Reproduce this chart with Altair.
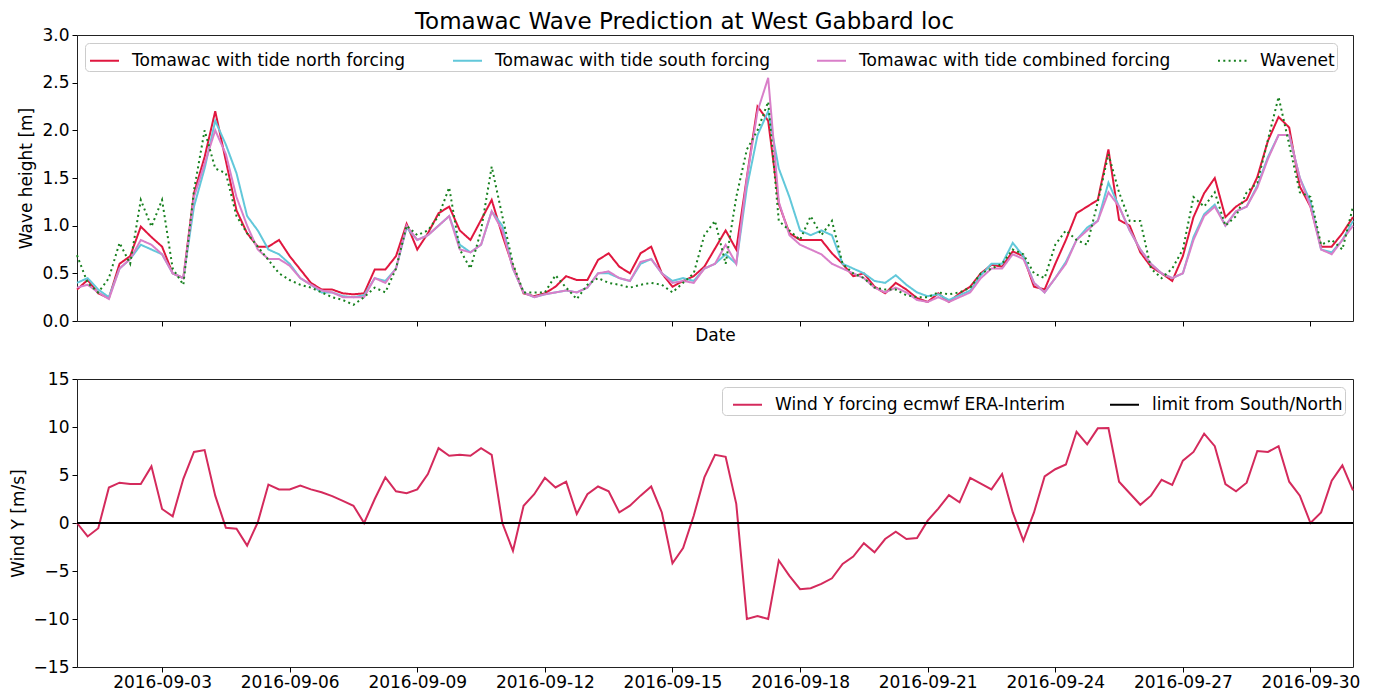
import altair as alt
import pandas as pd

# ---- data (6-hourly, 2016-09-01 00:00 .. 2016-10-01 00:00) ----
north = [
    0.33, 0.43, 0.29, 0.24, 0.60, 0.68, 0.99, 0.88, 0.78, 0.50,
    0.45, 1.34, 1.72, 2.20, 1.68, 1.16, 0.92, 0.78, 0.78, 0.85,
    0.68, 0.54, 0.40, 0.33, 0.33, 0.29, 0.28, 0.29, 0.54, 0.54,
    0.68, 1.02, 0.75, 0.92, 1.13, 1.20, 0.95, 0.85, 1.06, 1.27,
    0.90, 0.57, 0.29, 0.26, 0.29, 0.36, 0.47, 0.43, 0.43, 0.64,
    0.71, 0.57, 0.50, 0.71, 0.78, 0.50, 0.36, 0.42, 0.47, 0.57,
    0.76, 0.95, 0.75, 1.51, 2.25, 2.10, 1.23, 0.92, 0.85, 0.85,
    0.85, 0.71, 0.60, 0.47, 0.50, 0.36, 0.29, 0.40, 0.33, 0.24,
    0.20, 0.29, 0.20, 0.29, 0.36, 0.50, 0.59, 0.57, 0.73, 0.68,
    0.36, 0.33, 0.60, 0.85, 1.13, 1.20, 1.27, 1.80, 1.06, 1.00,
    0.72, 0.57, 0.50, 0.42, 0.68, 1.09, 1.34, 1.50, 1.09, 1.20,
    1.27, 1.51, 1.89, 2.14, 2.03, 1.41, 1.20, 0.78, 0.78, 0.92,
    1.09,
]
south = [
    0.40, 0.45, 0.33, 0.25, 0.55, 0.65, 0.80, 0.75, 0.70, 0.50,
    0.45, 1.20, 1.60, 2.10, 1.85, 1.55, 1.10, 0.95, 0.75, 0.70,
    0.60, 0.45, 0.38, 0.30, 0.30, 0.26, 0.25, 0.27, 0.45, 0.42,
    0.55, 0.98, 0.85, 0.90, 1.00, 1.10, 0.80, 0.72, 0.80, 1.15,
    1.00, 0.55, 0.30, 0.25, 0.28, 0.30, 0.32, 0.30, 0.35, 0.50,
    0.50, 0.45, 0.42, 0.60, 0.65, 0.50, 0.42, 0.45, 0.42, 0.55,
    0.60, 0.70, 0.60, 1.40, 1.95, 2.20, 1.60, 1.30, 0.95, 0.90,
    0.95, 0.90, 0.60, 0.55, 0.50, 0.42, 0.40, 0.48, 0.38, 0.30,
    0.26, 0.28, 0.22, 0.27, 0.32, 0.48, 0.60, 0.60, 0.82, 0.68,
    0.40, 0.30, 0.45, 0.62, 0.85, 0.98, 1.05, 1.45, 1.20, 0.95,
    0.75, 0.60, 0.50, 0.45, 0.50, 0.88, 1.12, 1.22, 1.00, 1.15,
    1.20, 1.42, 1.72, 1.95, 1.95, 1.50, 1.25, 0.75, 0.72, 0.85,
    1.05,
]
combined = [
    0.35, 0.38, 0.30, 0.23, 0.55, 0.65, 0.85, 0.80, 0.70, 0.50,
    0.45, 1.30, 1.65, 2.00, 1.75, 1.30, 1.00, 0.75, 0.65, 0.65,
    0.58, 0.45, 0.38, 0.32, 0.30, 0.25, 0.25, 0.25, 0.45, 0.40,
    0.55, 1.00, 0.85, 0.90, 1.00, 1.10, 0.75, 0.72, 0.80, 1.15,
    0.95, 0.55, 0.30, 0.25, 0.28, 0.30, 0.32, 0.30, 0.35, 0.50,
    0.52, 0.45, 0.42, 0.62, 0.65, 0.50, 0.40, 0.42, 0.40, 0.55,
    0.60, 0.80, 0.60, 1.50, 2.20, 2.55, 1.25, 0.90, 0.80, 0.75,
    0.70, 0.60, 0.55, 0.50, 0.45, 0.35, 0.30, 0.35, 0.30, 0.22,
    0.20, 0.25, 0.20, 0.25, 0.30, 0.45, 0.55, 0.55, 0.70, 0.65,
    0.40, 0.30, 0.45, 0.60, 0.85, 0.95, 1.05, 1.35, 1.20, 0.95,
    0.75, 0.60, 0.50, 0.45, 0.50, 0.85, 1.10, 1.20, 1.00, 1.15,
    1.20, 1.40, 1.70, 1.95, 1.95, 1.50, 1.20, 0.75, 0.70, 0.85,
    1.00,
]
wavenet = [
    0.69, 0.40, 0.30, 0.45, 0.82, 0.60, 1.27, 0.99, 1.27, 0.55,
    0.38, 1.37, 2.00, 1.60, 1.55, 1.10, 0.92, 0.78, 0.64, 0.50,
    0.43, 0.38, 0.35, 0.30, 0.25, 0.22, 0.17, 0.25, 0.35, 0.30,
    0.55, 1.00, 0.90, 0.95, 1.10, 1.40, 0.75, 0.55, 0.95, 1.62,
    1.10, 0.60, 0.30, 0.30, 0.30, 0.48, 0.35, 0.23, 0.38, 0.45,
    0.40, 0.38, 0.35, 0.38, 0.40, 0.38, 0.30, 0.40, 0.50, 0.90,
    1.05, 0.60, 1.30, 1.80, 2.00, 2.30, 1.05, 0.95, 0.85, 1.10,
    0.90, 1.05, 0.60, 0.50, 0.45, 0.35, 0.33, 0.33, 0.27, 0.25,
    0.25, 0.30, 0.28, 0.30, 0.35, 0.50, 0.55, 0.60, 0.75, 0.70,
    0.50, 0.45, 0.80, 0.95, 0.85, 0.80, 1.25, 1.75, 1.35, 1.05,
    1.05, 0.55, 0.45, 0.55, 0.75, 1.30, 1.20, 1.35, 1.00, 1.10,
    1.35, 1.45, 1.90, 2.35, 1.85, 1.35, 1.30, 0.80, 0.85, 0.75,
    1.20,
]
wind_y = [
    0.0, -1.4, -0.55, 3.7, 4.2, 4.06, 4.06, 5.9, 1.46, 0.7,
    4.6, 7.4, 7.6, 2.85, -0.5, -0.6, -2.36, 0.07, 4.0, 3.5,
    3.5, 3.9, 3.5, 3.2, 2.8, 2.3, 1.8, 0.0, 2.5, 4.75,
    3.3, 3.1, 3.5, 5.1, 7.8, 7.0, 7.1, 7.0, 7.8, 7.1,
    0.0, -2.9, 1.8, 3.0, 4.7, 3.7, 4.3, 0.94, 3.0, 3.8,
    3.3, 1.1, 1.8, 2.85, 3.8, 1.1, -4.2, -2.6, 0.76, 4.75,
    7.1, 6.9, 2.0, -10.0, -9.7, -10.0, -3.9, -5.5, -6.9, -6.8,
    -6.35, -5.76, -4.27, -3.5, -2.1, -3.05, -1.67, -0.9, -1.67, -1.56,
    0.24, 1.5, 2.9, 2.15, 4.7, 4.1, 3.5, 5.1, 1.1, -1.84,
    1.1, 4.86, 5.6, 6.1, 9.5, 8.2, 9.86, 9.9, 4.3, 3.1,
    1.9, 2.85, 4.5, 3.96, 6.5, 7.4, 9.3, 8.0, 4.06, 3.3,
    4.2, 7.5, 7.4, 8.0, 4.3, 2.85, 0.0, 1.1, 4.4, 6.0,
    3.4,
]
limit_times = ["2016-09-01T00:00:00", "2016-10-01T00:00:00"]
limit_values = [0.0, 0.0]

wave_names = [
    "Tomawac with tide north forcing",
    "Tomawac with tide south forcing",
    "Tomawac with tide combined forcing",
    "Wavenet",
]
wind_names = ["Wind Y forcing ecmwf ERA-Interim", "limit from South/North"]
tick_days = [3, 6, 9, 12, 15, 18, 21, 24, 27, 30]

# ---- tables ----
times = pd.date_range("2016-09-01", periods=len(wind_y), freq="6h")
wave_df = pd.concat(
    [pd.DataFrame({"time": times, "value": v, "series": n})
     for n, v in zip(wave_names, [north, south, combined, wavenet])],
    ignore_index=True,
)
wind_df = pd.DataFrame({"time": times, "value": wind_y, "name": wind_names[0]})
limit_df = pd.DataFrame({"time": pd.to_datetime(limit_times), "value": limit_values, "name": wind_names[1]})

# ---- styling ----
FONT = "DejaVu Sans"
FS = 17
wave_colors = ["#e0173f", "#62c8da", "#d97fc9", "#17801f"]
wave_dash = [[1, 0], [1, 0], [1, 0], [2, 3.3]]
wind_colors = ["#d42a5c", "#000000"]

x_domain = [alt.DateTime(year=2016, month=9, date=1), alt.DateTime(year=2016, month=10, date=1)]
x_values = [alt.DateTime(year=2016, month=9, date=d) for d in tick_days]
x_scale = alt.Scale(domain=x_domain, nice=False)

W = 1276


def make_legend(orient, cols, col_pad, sym_off):
    return alt.Legend(
        title=None, orient=orient, offset=8, direction="horizontal", columns=cols,
        symbolType="stroke", symbolSize=841, symbolStrokeWidth=2, symbolOffset=sym_off,
        labelFont=FONT, labelFontSize=FS, labelColor="black", labelLimit=600,
        labelOffset=12, columnPadding=col_pad, padding=2,
        fillColor="white", strokeColor="#cccccc", cornerRadius=4,
    )


top_legend = make_legend("top-left", 4, 43, 2)
top_x = alt.X("time:T", scale=x_scale,
              axis=alt.Axis(values=x_values, labels=False, title="Date", titlePadding=1))
top_y = alt.Y("value:Q", scale=alt.Scale(domain=[0, 3], nice=False),
              axis=alt.Axis(values=[0, 0.5, 1, 1.5, 2, 2.5, 3], format=".1f", title="Wave height [m]"))
top_color = alt.Color("series:N", scale=alt.Scale(domain=wave_names, range=wave_colors), legend=top_legend)
top_dash = alt.StrokeDash("series:N", scale=alt.Scale(domain=wave_names, range=wave_dash), legend=top_legend)

layers = []
for n in wave_names:
    layers.append(
        alt.Chart(wave_df)
        .transform_filter(alt.datum.series == n)
        .mark_line(strokeWidth=2)
        .encode(x=top_x, y=top_y, color=top_color, strokeDash=top_dash)
    )
top = alt.layer(*layers).properties(width=W, height=286)

bot_legend = make_legend("top-right", 2, 35, 8)
bot_x = alt.X("time:T", scale=x_scale,
              axis=alt.Axis(values=x_values, format="%Y-%m-%d", title=None, labelPadding=2))
bot_y = alt.Y("value:Q", scale=alt.Scale(domain=[-15, 15], nice=False),
              axis=alt.Axis(values=[-15, -10, -5, 0, 5, 10, 15], format="d", title="Wind Y [m/s]"))
bot_color = alt.Color("name:N", scale=alt.Scale(domain=wind_names, range=wind_colors), legend=bot_legend)

wind_line = alt.Chart(wind_df).mark_line(strokeWidth=2).encode(x=bot_x, y=bot_y, color=bot_color)
limit_line = alt.Chart(limit_df).mark_line(strokeWidth=2).encode(x=bot_x, y=bot_y, color=bot_color)
bottom = alt.layer(wind_line, limit_line).properties(width=W, height=288)

chart = (
    alt.vconcat(top, bottom, spacing=25)
    .resolve_scale(color="independent", strokeDash="independent")
    .properties(
        title=alt.TitleParams(
            "Tomawac Wave Prediction at West Gabbard loc", fontSize=23, font=FONT,
            fontWeight="normal", color="black", anchor="middle", offset=-8,
        ),
        padding={"left": 0, "right": 5, "top": 2, "bottom": 0},
        background="white",
    )
    .configure_axis(
        labelFont=FONT, labelFontSize=FS, labelColor="black",
        titleFont=FONT, titleFontSize=FS, titleFontWeight="normal", titleColor="black",
        tickColor="black", tickSize=5, domain=False, grid=False, labelPadding=3,
    )
    .configure_axisY(titlePadding=6)
    .configure_view(stroke="#222222", strokeWidth=1)
)

chart.save("out.html", embed_options={"renderer": "svg", "actions": False})
